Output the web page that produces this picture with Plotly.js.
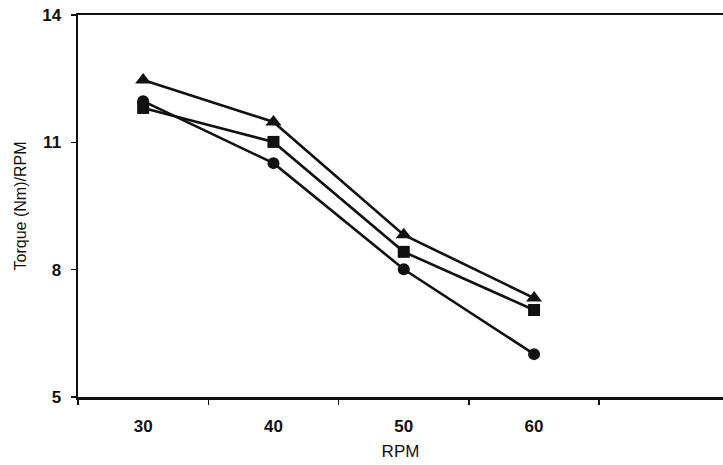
<!DOCTYPE html>
<html>
<head>
<meta charset="utf-8">
<script src="https://cdn.plot.ly/plotly-3.0.1.min.js"></script>
<style>html,body{margin:0;padding:0;background:#fff;overflow:hidden}</style>
</head>
<body>
<div id="chart" style="width:723px;height:465px"></div>
<script>
const rpm = [30, 40, 50, 60];
const triangleSeries = [12.47, 11.48, 8.82, 7.33];
const squareSeries = [11.81, 11.01, 8.42, 7.05];
const circleSeries = [11.97, 10.51, 8.01, 6.01];
const yTicks = [5, 8, 11, 14];
const xTickLabels = ['30', '40', '50', '60'];

function series(y, symbol, size) {
  return {
    x: rpm, y: y, type: 'scatter', mode: 'lines+markers',
    line: {color: '#111', width: 2.6},
    marker: {symbol: symbol, size: size, color: '#111'},
    showlegend: false, cliponaxis: false
  };
}

const data = [
  series(triangleSeries, 'triangle-up', 14),
  series(squareSeries, 'square', 12),
  series(circleSeries, 'circle', 12)
];

const layout = {
  width: 723, height: 465,
  margin: {l: 78, r: 0, t: 15, b: 68},
  paper_bgcolor: '#ffffff', plot_bgcolor: '#ffffff',
  font: {family: 'Liberation Sans, Arial, sans-serif', color: '#111'},
  xaxis: {
    range: [25, 74.5], showgrid: false, zeroline: false,
    showline: true, linecolor: '#111', linewidth: 2.5, mirror: true,
    tickvals: rpm, ticktext: xTickLabels, ticks: '',
    tickfont: {size: 17, color: '#111', weight: 'bold'},
    ticklabelstandoff: 12,
    minor: {tick0: 35, dtick: 10, ticks: 'outside', ticklen: 5, tickcolor: '#111', tickwidth: 1.5, showgrid: false},
    title: {text: 'RPM', font: {size: 17, color: '#111'}, standoff: 10}
  },
  yaxis: {
    range: [5, 14], showgrid: false, zeroline: false,
    showline: true, linecolor: '#111', linewidth: 2.5,
    tickvals: yTicks, ticks: 'outside', ticklen: 5, tickwidth: 1.5, tickcolor: '#111',
    tickfont: {size: 17, color: '#111', weight: 'bold'},
    ticklabelstandoff: 6,
    title: {text: 'Torque (Nm)/RPM', font: {size: 16, color: '#111'}, standoff: 12}
  }
};

Plotly.newPlot('chart', data, layout, {displayModeBar: false, staticPlot: true});
</script>
</body>
</html>
